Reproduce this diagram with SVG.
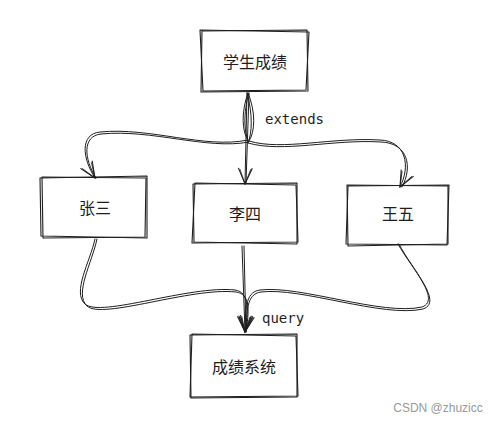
<svg xmlns="http://www.w3.org/2000/svg" width="504" height="422" viewBox="0 0 504 422">
<defs>
<style>
.box{fill:none;stroke:#1e1e1e;stroke-width:1.1;stroke-linecap:round;stroke-linejoin:round}
.lbl{font-family:"Noto Sans CJK SC","Noto Sans",sans-serif;font-size:16px;fill:#1e1e1e;text-anchor:middle;dominant-baseline:central}
.edge{fill:none;stroke:#1e1e1e;stroke-width:1;stroke-linecap:round}
.elbl{font-family:"DejaVu Sans Mono",monospace;font-size:14px;fill:#1e1e1e}
</style>
<marker id="arr" viewBox="0 0 20 20" refX="18" refY="10" markerWidth="20" markerHeight="20" markerUnits="userSpaceOnUse" orient="auto">
<path d="M2 3 L18 10 L2 17" fill="none" stroke="#1e1e1e" stroke-width="1.1"/>
<path d="M3 4.5 L18 10 L3 15.5" fill="none" stroke="#1e1e1e" stroke-width="0.8"/>
</marker>
</defs>
<rect width="504" height="422" fill="#ffffff"/>

<g id="connectors">
<g id="e-extends">
<path class="edge" d="M248 93 C241 112 242 132 248 140 C205 149 150 127 100 132 C80 134 82 158 95 178" marker-end="url(#arr)"/>
<path class="edge" d="M249 93 C243 113 244 134 249 142 C207 150 152 129 101 134 C82 136 84 159 96 178"/>
<path class="edge" d="M248 93 C256 112 255 132 249 141 C282 151 332 137 380 140 C406 141 411 166 400 187" marker-end="url(#arr)"/>
<path class="edge" d="M247 93 C253 114 252 134 248 143 C283 153 333 139 381 142 C408 143 413 167 402 187"/>
<path class="edge" d="M247 93 L245 184" marker-end="url(#arr)"/>
<path class="edge" d="M249 94 L246 183"/>
<text class="elbl" x="265" y="124">extends</text>
</g>
<g id="e-query">
<path class="edge" d="M95 239 C90 262 72 292 85 304 C100 318 190 285 235 290 C250 292 248 312 245 332" marker-end="url(#arr)"/>
<path class="edge" d="M97 239 C92 263 74 294 87 306 C102 320 191 287 236 292 C251 294 249 312 246 332"/>
<path class="edge" d="M398 244 C410 266 442 300 422 307 C382 316 300 285 260 290 C244 292 246 312 245 332" marker-end="url(#arr)"/>
<path class="edge" d="M399 244 C411 268 444 302 423 309 C383 318 301 287 261 292 C246 294 247 312 246 332"/>
<path class="edge" d="M242 246 L245 332" marker-end="url(#arr)"/>
<path class="edge" d="M244 246 L246 331"/>
<text class="elbl" x="262" y="323">query</text>
</g>
</g>

<g id="n-xscj">
<path class="box" d="M202 31 L307 30 L308 91 L201 92 Z"/>
<path class="box" d="M200 30 L309 32 L306 90 L203 91 Z"/>
<text class="lbl" x="255" y="61">学生成绩</text>
</g>
<g id="n-zs">
<path class="box" d="M42 177 L146 178 L145 237 L43 238 Z"/>
<path class="box" d="M40 178 L147 176 L147 238 L41 236 Z"/>
<text class="lbl" x="95" y="207">张三</text>
</g>
<g id="n-ls">
<path class="box" d="M193 184 L297 183 L297 244 L194 242 Z"/>
<path class="box" d="M195 183 L296 185 L298 242 L192 243 Z"/>
<text class="lbl" x="245" y="213">李四</text>
</g>
<g id="n-ww">
<path class="box" d="M347 185 L448 186 L448 244 L348 246 Z"/>
<path class="box" d="M348 186 L449 185 L447 245 L346 244 Z"/>
<text class="lbl" x="398" y="213">王五</text>
</g>
<g id="n-cjxt">
<path class="box" d="M190 335 L297 334 L297 397 L191 398 Z"/>
<path class="box" d="M192 334 L296 336 L298 396 L190 397 Z"/>
<text class="lbl" x="244" y="366">成绩系统</text>
</g>
<text x="438" y="412" font-family="Liberation Sans,Arial,sans-serif" font-size="12" fill="#999999" text-anchor="middle">CSDN @zhuzicc</text>
</svg>
